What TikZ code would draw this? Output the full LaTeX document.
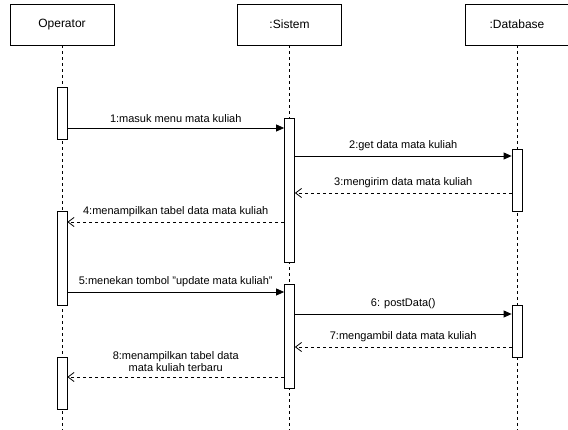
\documentclass[tikz,border=0pt]{standalone}
\usepackage{fontspec}
\setmainfont{Liberation Sans}
\usetikzlibrary{arrows.meta}
\tikzset{
  head/.style={draw, line width=0.8pt, fill=white, minimum width=104pt, minimum height=41pt, inner sep=0pt, font=\fontsize{12}{14}\selectfont},
  life/.style={draw, line width=0.8pt, dash pattern=on 3pt off 3pt},
  act/.style={draw, line width=0.8pt, fill=white, minimum width=10pt, inner sep=0pt},
  call/.style={draw, line width=0.8pt, -{Triangle[length=8pt,width=7pt]}},
  reply/.style={draw, line width=0.8pt, dash pattern=on 3pt off 3pt, -{Straight Barb[length=6pt,width=9pt,line width=0.8pt]}},
  lbl/.style={font=\fontsize{11}{12}\selectfont, inner sep=0pt, anchor=south, yshift=4.5pt, align=center}
}
\begin{document}
\begin{tikzpicture}[x=1pt,y=-1pt]
\useasboundingbox (0,0) rectangle (568,430);
\fill[white] (0,0) rectangle (568,430);
% heads
\node[head] (op) at (62,24.5) {Operator};
\node[head] (sis) at (289.5,24.5) {:Sistem};
\node[head] (db) at (517,24.5) {:Database};
% lifeline ends
\coordinate (opEnd) at (62,430);
\coordinate (sisEnd) at (289.5,430);
\coordinate (dbEnd) at (517,430);
\draw[life] (op.south) -- (opEnd);
\draw[life] (sis.south) -- (sisEnd);
\draw[life] (db.south) -- (dbEnd);
% activations
\node[act, minimum height=52pt] (opA1) at (62,113) {};
\node[act, minimum height=144pt] (sisA1) at (289.5,190) {};
\node[act, minimum height=62pt] (dbA1) at (517,180) {};
\node[act, minimum height=94pt] (opA2) at (62,258) {};
\node[act, minimum height=104pt] (sisA2) at (289.5,336) {};
\node[act, minimum height=52pt] (dbA2) at (517,331) {};
\node[act, minimum height=52pt] (opA3) at (62,383) {};
% message levels
\coordinate (y1) at (0,128);
\coordinate (y2) at (0,156);
\coordinate (y3) at (0,193);
\coordinate (y4) at (0,222);
\coordinate (y5) at (0,292);
\coordinate (y6) at (0,314);
\coordinate (y7) at (0,347);
\coordinate (y8) at (0,377);
% messages
\draw[call] (opA1.east |- y1) -- node[lbl] (l1) {1:masuk menu mata kuliah} (sisA1.west |- y1);
\draw[call] (sisA1.east |- y2) -- node[lbl] (l2) {2:get data mata kuliah} (dbA1.west |- y2);
\draw[reply] (dbA1.west |- y3) -- node[lbl] (l3) {3:mengirim data mata kuliah} (sisA1.east |- y3);
\draw[reply] (sisA1.west |- y4) -- node[lbl] (l4) {4:menampilkan tabel data mata kuliah} (opA2.east |- y4);
\draw[call] (opA2.east |- y5) -- node[lbl] (l5) {5:menekan tombol "update mata kuliah"} (sisA2.west |- y5);
\draw[call] (sisA2.east |- y6) -- node[lbl] (l6) {6: postData()} (dbA2.west |- y6);
\draw[reply] (dbA2.west |- y7) -- node[lbl] (l7) {7:mengambil data mata kuliah} (sisA2.east |- y7);
\draw[reply] (sisA2.west |- y8) -- node[lbl] (l8) {8:menampilkan tabel data\\mata kuliah terbaru} (opA3.east |- y8);
\end{tikzpicture}
\end{document}
